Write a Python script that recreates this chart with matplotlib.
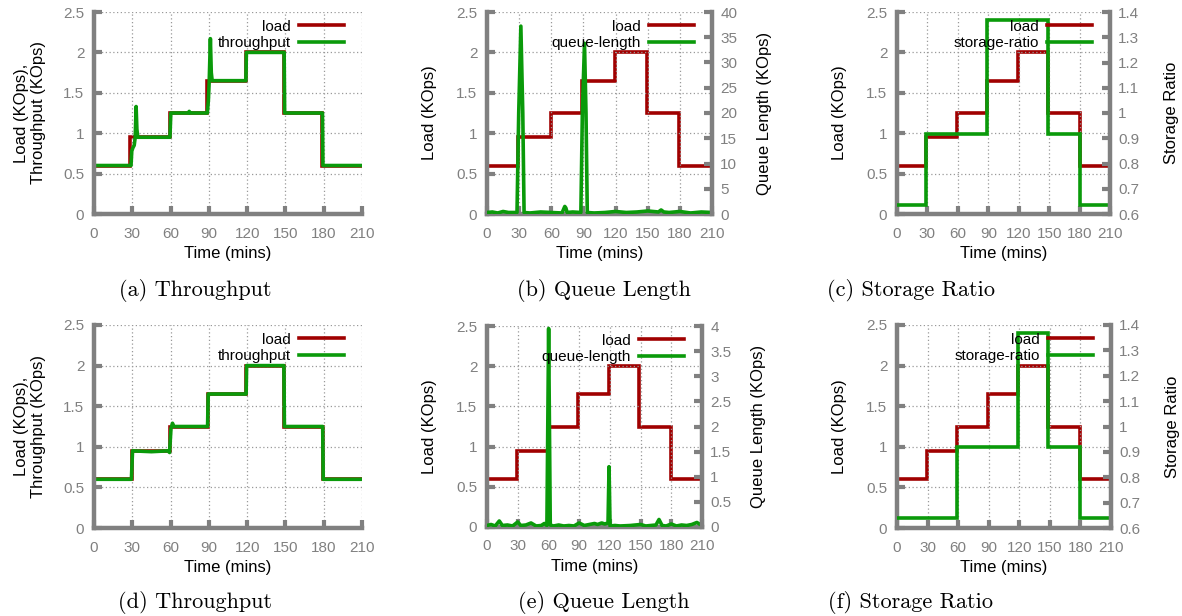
import matplotlib
matplotlib.use("Agg")
import matplotlib.pyplot as plt
from matplotlib.ticker import FuncFormatter

plt.rcParams['font.family'] = ['Liberation Sans', 'DejaVu Sans']

# ---- data ----
# top row load steps
load_edges_top = [0, 28.5, 59.5, 88.5, 119, 149, 179, 210]
load_levels = [0.6, 0.95, 1.25, 1.65, 2.0, 1.25, 0.6]
# bottom row load steps
load_edges_bot = [0, 29.5, 59.2, 89.2, 119.3, 148.8, 179.3, 210]

# (a) throughput
thr_a_t = [0, 29, 29.6, 30.5, 31.5, 32.3, 33, 33.6, 34.3, 59.5, 60.2, 74, 74.6, 75.2,
           88.8, 89.6, 90.3, 91.2, 91.9, 92.6, 119, 119.4, 149, 149.4, 179, 179.4, 210]
thr_a_v = [0.6, 0.6, 0.78, 0.82, 0.85, 0.95, 1.33, 1.05, 0.95, 0.95, 1.25, 1.25, 1.27, 1.25,
           1.25, 1.4, 1.65, 2.17, 1.75, 1.65, 1.65, 2.0, 2.0, 1.25, 1.25, 0.6, 0.6]

# (b) queue length (KOps)
queue_b_t = [0, 5, 10, 15, 20, 25, 28, 29.6, 31.6, 33.4, 34.6, 40, 50, 60, 70, 72.6, 73.6,
             74.8, 80, 87.6, 89, 91, 92.4, 93.6, 100, 110, 120, 130, 140, 150, 160, 162.5,
             165, 170, 180, 190, 200, 210]
queue_b_v = [0.3, 0.4, 0.2, 0.5, 0.3, 0.3, 0.3, 20, 37.2, 20, 0.3, 0.2, 0.4, 0.3, 0.2, 1.5,
             1.2, 0.3, 0.4, 0.3, 20, 33.8, 20, 0.3, 0.2, 0.3, 0.5, 0.3, 0.4, 0.6, 0.4, 0.8,
             0.4, 0.3, 0.5, 0.2, 0.4, 0.3]

# (c) storage ratio
stor_c_edges = [0, 29, 89, 149, 180, 210]
stor_c_levels = [0.637, 0.915, 1.367, 0.915, 0.637]

# (d) throughput
thr_d_t = [0, 29.3, 30.2, 45, 58, 59.2, 60.3, 61.5, 62.5, 89, 89.5, 119.2, 119.6, 148.8,
           149.2, 179.2, 179.6, 210]
thr_d_v = [0.6, 0.6, 0.95, 0.94, 0.95, 0.93, 1.22, 1.29, 1.25, 1.25, 1.65, 1.65, 2.0, 2.0,
           1.25, 1.25, 0.6, 0.6]

# (e) queue length (KOps)
queue_e_t = [0, 4, 8, 12, 15, 20, 25, 30, 33, 38, 43, 48, 53, 56, 58.5, 60.2, 61.8, 65, 70,
             75, 80, 85, 90, 95, 100, 105, 108, 112, 115, 118.2, 119.2, 120.2, 125, 130,
             140, 150, 155, 160, 165, 168, 171, 175, 180, 185, 190, 195, 200, 205, 210]
queue_e_v = [0.03, 0.05, 0.02, 0.12, 0.03, 0.04, 0.02, 0.1, 0.03, 0.04, 0.08, 0.02, 0.03,
             0.07, 0.03, 3.95, 0.04, 0.02, 0.04, 0.02, 0.03, 0.02, 0.08, 0.03, 0.05, 0.07,
             0.05, 0.08, 0.06, 0.08, 1.2, 0.02, 0.03, 0.02, 0.03, 0.05, 0.02, 0.03, 0.04,
             0.15, 0.03, 0.02, 0.06, 0.02, 0.04, 0.03, 0.05, 0.09, 0.03]

# (f) storage ratio
stor_f_edges = [0, 58.5, 119, 148.5, 179.5, 210]
stor_f_levels = [0.64, 0.921, 1.369, 0.921, 0.64]

RED = '#a00000'
GREEN = '#0a9a0a'
GRAY = '#808080'
LW = 2.6

fig = plt.figure(figsize=(11.82, 6.16), dpi=100)
W, H = 1182.0, 616.0


def rect(l, r, t, b):
    return [l / W, 1 - b / H, (r - l) / W, (b - t) / H]


fmt = FuncFormatter(lambda v, p: '%g' % round(v, 3))


def base_axes(r, ylabel, pad):
    ax = fig.add_axes(r)
    ax.set_xlim(0, 210)
    ax.set_ylim(0, 2.5)
    ax.set_xticks(range(0, 211, 30))
    ax.set_yticks([0, 0.5, 1, 1.5, 2, 2.5])
    ax.yaxis.set_major_formatter(fmt)
    ax.grid(True, linestyle=(0, (1, 2)), color='#999999', linewidth=0.9)
    for s in ['top', 'right']:
        ax.spines[s].set_visible(False)
    for s in ['left', 'bottom']:
        ax.spines[s].set_color(GRAY)
        ax.spines[s].set_linewidth(3.2)
    ax.tick_params(direction='in', length=6, width=3, color=GRAY, labelcolor=GRAY,
                   labelsize=11, pad=7)
    ax.tick_params(axis='x', pad=9)
    ax.set_xlabel('Time (mins)', fontsize=12, labelpad=4)
    ax.set_ylabel(ylabel, fontsize=12, labelpad=pad)
    return ax


def right_axes(ax, lim, ticks, ylabel, pad):
    ax2 = ax.twinx()
    ax2.set_ylim(*lim)
    ax2.set_yticks(ticks)
    ax2.yaxis.set_major_formatter(fmt)
    for s in ['top', 'left', 'bottom']:
        ax2.spines[s].set_visible(False)
    ax2.spines['right'].set_color(GRAY)
    ax2.spines['right'].set_linewidth(3.2)
    ax2.tick_params(direction='in', length=6, width=3, color=GRAY, labelcolor=GRAY,
                    labelsize=11, pad=6)
    ax2.set_ylabel(ylabel, fontsize=12, labelpad=pad)
    return ax2


def legend(ax, handles, labels, width_px):
    ax.legend(handles, labels, loc='upper right', frameon=False, markerfirst=False,
              fontsize=11, handlelength=3.0, handletextpad=0.5, labelspacing=0.15,
              borderaxespad=0.3, borderpad=0.2,
              bbox_to_anchor=(1 - 10.0 / width_px, 1))


def caption(x, y, s):
    fig.text(x / W, 1 - y / H, s, ha='center', va='center', fontsize=16,
             family=['cmr10', 'DejaVu Serif'])


# (a)
ax = base_axes(rect(94, 362, 12, 214), 'Load (KOps),\nThroughput (KOps)', 12)
la = ax.stairs(load_levels, load_edges_top, color=RED, linewidth=LW, baseline=None)
ta, = ax.plot(thr_a_t, thr_a_v, color=GREEN, linewidth=LW)
legend(ax, [la, ta], ['load', 'throughput'], 268)

# (b)
ax = base_axes(rect(487, 712, 12, 214), 'Load (KOps)', 14)
lb = ax.stairs(load_levels, load_edges_top, color=RED, linewidth=LW, baseline=None)
ax2 = right_axes(ax, (0, 40), range(0, 41, 5), 'Queue Length (KOps)', 14)
qb, = ax2.plot(queue_b_t, queue_b_v, color=GREEN, linewidth=LW)
legend(ax2, [lb, qb], ['load', 'queue-length'], 225)

# (c)
ax = base_axes(rect(897, 1110, 12, 214), 'Load (KOps)', 14)
lc = ax.stairs(load_levels, [0, 28.6, 59.5, 89, 119.6, 149, 180, 210], color=RED,
               linewidth=LW, baseline=None)
ax2 = right_axes(ax, (0.6, 1.4), [0.6, 0.7, 0.8, 0.9, 1.0, 1.1, 1.2, 1.3, 1.4], 'Storage Ratio', 18)
sc = ax2.stairs(stor_c_levels, stor_c_edges, color=GREEN, linewidth=LW, baseline=None)
legend(ax2, [lc, sc], ['load', 'storage-ratio'], 213)

# (d)
ax = base_axes(rect(94, 362, 325, 528), 'Load (KOps),\nThroughput (KOps)', 12)
ld = ax.stairs(load_levels, load_edges_bot, color=RED, linewidth=LW, baseline=None)
td, = ax.plot(thr_d_t, thr_d_v, color=GREEN, linewidth=LW)
legend(ax, [ld, td], ['load', 'throughput'], 268)

# (e)
ax = base_axes(rect(487, 702, 326, 527), 'Load (KOps)', 14)
le = ax.stairs(load_levels, load_edges_bot, color=RED, linewidth=LW, baseline=None)
ax2 = right_axes(ax, (0, 4), [0, 0.5, 1, 1.5, 2, 2.5, 3, 3.5, 4], 'Queue Length (KOps)', 14)
qe, = ax2.plot(queue_e_t, queue_e_v, color=GREEN, linewidth=LW)
legend(ax2, [le, qe], ['load', 'queue-length'], 215)

# (f)
ax = base_axes(rect(897, 1111, 325, 528), 'Load (KOps)', 14)
lf = ax.stairs(load_levels, [0, 29, 58.6, 89, 119, 148.5, 179.5, 210], color=RED,
               linewidth=LW, baseline=None)
ax2 = right_axes(ax, (0.6, 1.4), [0.6, 0.7, 0.8, 0.9, 1.0, 1.1, 1.2, 1.3, 1.4], 'Storage Ratio', 18)
sf = ax2.stairs(stor_f_levels, stor_f_edges, color=GREEN, linewidth=LW, baseline=None)
legend(ax2, [lf, sf], ['load', 'storage-ratio'], 214)

caption(195, 290, '(a) Throughput')
caption(604, 290, '(b) Queue Length')
caption(911, 290, '(c) Storage Ratio')
caption(195, 602, '(d) Throughput')
caption(604, 602, '(e) Queue Length')
caption(911, 602, '(f) Storage Ratio')

fig.savefig('out.png', dpi=100)
